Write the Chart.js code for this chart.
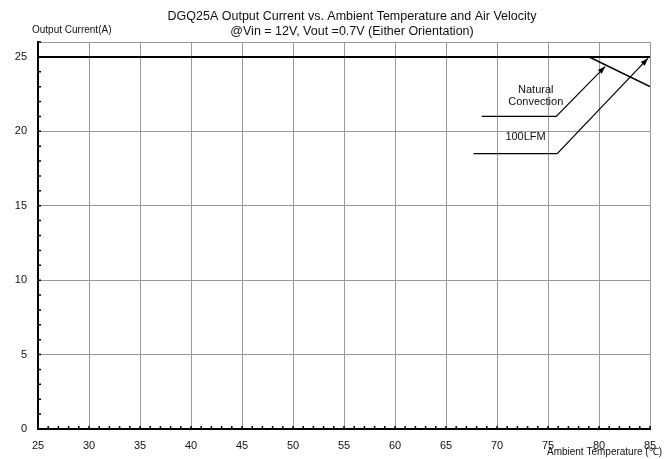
<!DOCTYPE html>
<html>
<head>
<meta charset="utf-8">
<script src="https://cdn.jsdelivr.net/npm/chart.js@4"></script>
<style>
  html, body { margin: 0; padding: 0; background: #fff; }
  #wrap { width: 672px; height: 459px; }
</style>
</head>
<body>
<div id="wrap"><canvas id="myChart" width="672" height="459"></canvas></div>
<script>
// data
const temps = [25, 30, 35, 40, 45, 50, 55, 60, 65, 70, 75, 80, 85];
const natConv = [{x: 25, y: 25}, {x: 79, y: 25}, {x: 85, y: 23}];
const lfm100 = [{x: 25, y: 25}, {x: 85, y: 25}];
const yTicks = [0, 5, 10, 15, 20, 25];

// leader lines for the labels, in data units: start, elbow, arrow tip
const natConvLeader = [[68.5, 21], [75.8, 21], [80.6, 24.35]];
const lfmLeader = [[67.7, 18.5], [75.9, 18.5], [84.8, 24.9]];
const natConvLabel = {x: 73.8, y: 22.4, lines: ['Natural', 'Convection']};
const lfmLabel = {x: 72.8, y: 19.6, lines: ['100LFM']};

const FONT = 'Arial, "Liberation Sans", sans-serif';

const extras = {
  id: 'extras',
  afterDatasetsDraw(chart) {
    const c = chart.ctx, xs = chart.scales.x, ys = chart.scales.y, a = chart.chartArea;
    c.save();
    // minor ticks, pointing inward
    c.strokeStyle = '#000';
    c.lineWidth = 1.5;
    c.beginPath();
    for (let t = 25; t <= 85; t++) {
      const px = xs.getPixelForValue(t);
      c.moveTo(px, a.bottom);
      c.lineTo(px, a.bottom - 3);
    }
    for (let v = 0; v <= 26; v++) {
      const py = ys.getPixelForValue(v);
      c.moveTo(a.left, py);
      c.lineTo(a.left + 3, py);
    }
    c.stroke();

    // leader lines with arrows
    c.lineWidth = 1.2;
    [natConvLeader, lfmLeader].forEach(pts => {
      const p = pts.map(q => [xs.getPixelForValue(q[0]), ys.getPixelForValue(q[1])]);
      c.beginPath();
      c.moveTo(p[0][0], p[0][1]);
      for (let i = 1; i < p.length; i++) c.lineTo(p[i][0], p[i][1]);
      c.stroke();
      const [x1, y1] = p[p.length - 2], [x2, y2] = p[p.length - 1];
      const ang = Math.atan2(y2 - y1, x2 - x1);
      c.beginPath();
      c.moveTo(x2, y2);
      c.lineTo(x2 - 8 * Math.cos(ang - 0.35), y2 - 8 * Math.sin(ang - 0.35));
      c.lineTo(x2 - 8 * Math.cos(ang + 0.35), y2 - 8 * Math.sin(ang + 0.35));
      c.closePath();
      c.fillStyle = '#000';
      c.fill();
    });

    // labels
    c.fillStyle = '#111';
    c.font = '11px ' + FONT;
    c.textAlign = 'center';
    c.textBaseline = 'middle';
    [natConvLabel, lfmLabel].forEach(l => {
      const px = xs.getPixelForValue(l.x), py = ys.getPixelForValue(l.y);
      const off = (l.lines.length - 1) * 6;
      l.lines.forEach((s, i) => c.fillText(s, px, py - off + i * 12));
    });

    // titles
    c.font = '12.5px ' + FONT;
    c.fillText('DGQ25A Output Current vs. Ambient Temperature and Air Velocity', 352, 17);
    c.fillText('@Vin = 12V, Vout =0.7V (Either Orientation)', 352, 32);
    c.font = '10px ' + FONT;
    c.textAlign = 'left';
    c.fillText('Output Current(A)', 32, 30);
    c.textAlign = 'right';
    c.fillText('Ambient Temperature (\u2103)', 662, 452);
    c.restore();
  }
};

new Chart(document.getElementById('myChart').getContext('2d'), {
  type: 'line',
  data: {
    datasets: [{
      label: 'Natural Convection',
      data: natConv,
      borderColor: '#000',
      borderWidth: 1.6,
      pointRadius: 0,
      tension: 0
    }, {
      label: '100LFM',
      data: lfm100,
      borderColor: '#000',
      borderWidth: 2,
      pointRadius: 0,
      tension: 0
    }]
  },
  options: {
    responsive: false,
    animation: false,
    layout: { padding: { left: 0, right: 22, top: 42, bottom: 0 } },
    plugins: { legend: { display: false }, tooltip: { enabled: false } },
    scales: {
      x: {
        type: 'linear',
        min: 25,
        max: 85,
        afterBuildTicks: s => { s.ticks = temps.map(v => ({value: v})); },
        afterFit: s => { s.height = 30; },
        ticks: { color: '#111', font: { size: 11, family: FONT }, padding: 10, maxRotation: 0, autoSkip: false },
        grid: { color: '#999', lineWidth: 1, drawTicks: false },
        border: { color: '#000', width: 2 }
      },
      y: {
        type: 'linear',
        min: 0,
        max: 26,
        afterBuildTicks: s => { s.ticks = yTicks.concat([26]).map(v => ({value: v})); },
        afterFit: s => { s.width = 38; },
        ticks: {
          color: '#111', font: { size: 11, family: FONT }, padding: 11,
          callback: v => (v % 5 === 0 ? v : '')
        },
        grid: { color: '#999', lineWidth: 1, drawTicks: false },
        border: { color: '#000', width: 2 }
      }
    }
  },
  plugins: [extras]
});
</script>
</body>
</html>
